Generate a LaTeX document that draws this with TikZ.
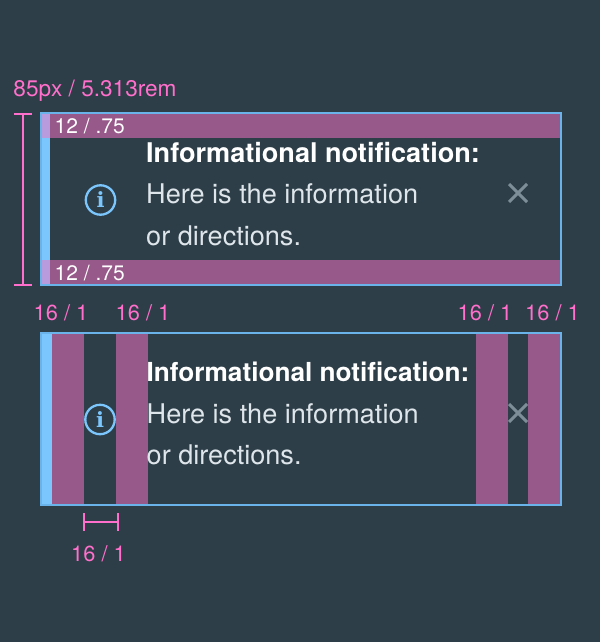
\documentclass[tikz,border=0pt]{standalone}
\usepackage{fontspec}
\setmainfont{TeX Gyre Heros}
\newfontfamily\iconfont{DejaVu Serif}
\definecolor{slate}{HTML}{2D3E48}
\definecolor{skyline}{HTML}{69B3EA}
\definecolor{skybar}{HTML}{7CC6FE}
\definecolor{plum}{HTML}{97588A}
\definecolor{lilac}{HTML}{B89BDC}
\definecolor{rose}{HTML}{FF6FCB}
\definecolor{mist}{HTML}{DFE6EB}
\definecolor{ash}{HTML}{7E8E98}
\tikzset{
  spec/.style={text=rose, font=\fontsize{22.6}{22.6}\selectfont, inner sep=0pt},
  specsmall/.style={text=rose, font=\fontsize{21.8}{21.8}\selectfont, inner sep=0pt},
  band/.style={text=white, font=\fontsize{21}{21}\selectfont, inner sep=0pt, anchor=west},
  headline/.style={text=white, font=\fontsize{27.1}{27.1}\selectfont\bfseries, inner sep=0pt, anchor=base west},
  headlinelow/.style={text=white, font=\fontsize{26.2}{26.2}\selectfont\bfseries, inner sep=0pt, anchor=base west},
  bodyline/.style={text=mist, font=\fontsize{27.1}{27.1}\selectfont, inner sep=0pt, anchor=base west},
  dim/.style={draw=rose, line width=2pt},
  infoletter/.style={text=skybar, font=\fontsize{21}{21}\selectfont\iconfont\bfseries, inner sep=0pt},
}
\begin{document}
\begin{tikzpicture}[x=1pt,y=-1pt]
\fill[slate] (0,0) rectangle (600,642);
\useasboundingbox (0,0) rectangle (600,642);
% upper notification
\fill[skybar] (40,112.3) rectangle (50,285.7);
\fill[plum] (50,114) rectangle (560,138.3);
\fill[plum] (50,260) rectangle (560,284);
\fill[lilac] (42,114) rectangle (50,138.3);
\fill[lilac] (42,260) rectangle (50,284);
\draw[skyline, line width=2pt] (41,113.2) rectangle (560.7,284.8);
\node[band] (padtop) at (54.5,126.5) {12 / .75};
\node[band] (padbottom) at (54.5,273) {12 / .75};
\node[headline] (title) at (146,162) {Informational notification:};
\node[bodyline] (lineone) at (146,203) {Here is the information};
\node[bodyline] (linetwo) at (146,245) {or directions.};
\draw[skybar, line width=2.3pt] (100.5,200) circle (14.7);
\node[infoletter] (info) at (100.5,200) {i};
\coordinate (xa) at (509,184);
\coordinate (xb) at (527,202);
\coordinate (xc) at (527,184);
\coordinate (xd) at (509,202);
\draw[ash, line width=3pt] (xa) -- (xb);
\draw[ash, line width=3pt] (xc) -- (xd);
% height of the notification
\node[spec] (height) at (95,90.5) {85px / 5.313rem};
\coordinate (Ha) at (23,114);
\coordinate (Hb) at (23,285);
\draw[dim] (Ha) -- (Hb);
\draw[dim] (14,114) -- (32,114);
\draw[dim] (14,285) -- (32,285);
% lower notification
\begin{scope}[yshift=-219pt]
\fill[skybar] (40,112.7) rectangle (52,286.7);
\fill[plum] (52,115) rectangle (84,285);
\fill[plum] (116,115) rectangle (148,285);
\fill[plum] (476,115) rectangle (508,285);
\fill[plum] (528,115) rectangle (560,285);
\draw[skyline, line width=2pt] (41,113.7) rectangle (560.7,285.7);
\node[headlinelow] (titlelow) at (146.5,162) {Informational notification:};
\node[bodyline] (lineonelow) at (146.5,204) {Here is the information};
\node[bodyline] (linetwolow) at (146.5,245) {or directions.};
\draw[skybar, line width=2.3pt] (100,200.5) circle (14.7);
\node[infoletter] (infolow) at (100,200.5) {i};
\coordinate (xa) at (509,185);
\coordinate (xb) at (527,203);
\coordinate (xc) at (527,185);
\coordinate (xd) at (509,203);
\draw[ash, line width=3pt] (xa) -- (xb);
\draw[ash, line width=3pt] (xc) -- (xd);
\end{scope}
\node[specsmall] (widtha) at (61,312.5) {16 / 1};
\node[specsmall] (widthb) at (143,312.5) {16 / 1};
\node[specsmall] (widthc) at (485,312.5) {16 / 1};
\node[specsmall] (widthd) at (552.5,312.5) {16 / 1};
\node[specsmall] (widthe) at (98.5,553.5) {16 / 1};
\coordinate (Wa) at (84,522);
\coordinate (Wb) at (118,522);
\draw[dim] (Wa) -- (Wb);
\draw[dim] (84,513) -- (84,531);
\draw[dim] (118,513) -- (118,531);
\end{tikzpicture}
\end{document}
